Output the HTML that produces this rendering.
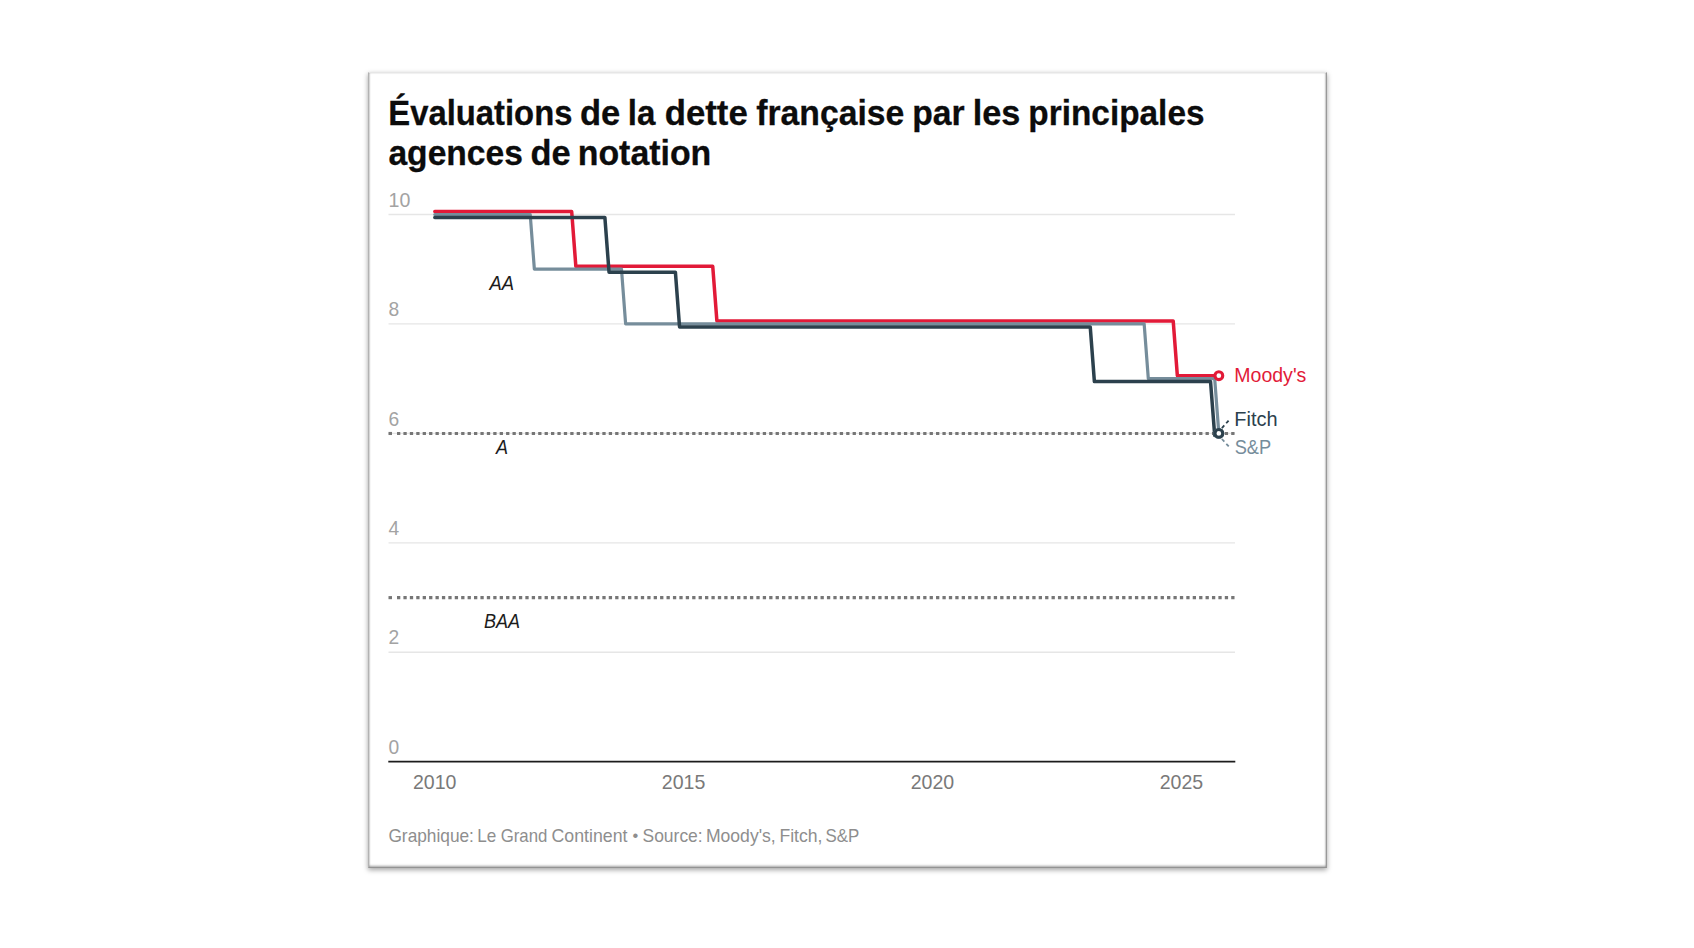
<!DOCTYPE html>
<html lang="fr">
<head>
<meta charset="utf-8">
<title>Évaluations de la dette française par les principales agences de notation</title>
<style>
html,body{margin:0;padding:0;background:#fff;}
body{width:1694px;height:948px;position:relative;overflow:hidden;font-family:'Liberation Sans', Arial, sans-serif;}
.card{position:absolute;left:368px;top:72px;width:957px;height:794px;background:#fff;
 border:1px solid rgba(0,0,0,0.40);border-top-color:rgba(0,0,0,0.10);border-left-color:rgba(0,0,0,0.30);border-bottom-color:rgba(0,0,0,0.42);
 box-shadow:0 2px 5px rgba(0,0,0,0.36), inset 1px 0 1.5px rgba(0,0,0,0.12), inset -1px 0 1.5px rgba(0,0,0,0.16), inset 0 -1.5px 2px rgba(0,0,0,0.25);}
svg{position:absolute;left:0;top:0;font-family:'Liberation Sans', Arial, sans-serif;}
</style>
</head>
<body>
<div class="card"></div>
<svg width="1694" height="948" viewBox="0 0 1694 948">
<g font-weight="bold" font-size="35.6" fill="#0c0c0c" stroke="#0c0c0c" stroke-width="0.3">
<text y="124.85"><tspan x="388.30" textLength="184.14" lengthAdjust="spacingAndGlyphs">Évaluations</tspan> <tspan x="579.95" textLength="40.28" lengthAdjust="spacingAndGlyphs">de</tspan> <tspan x="627.77" textLength="27.62" lengthAdjust="spacingAndGlyphs">la</tspan> <tspan x="664.84" textLength="82.90" lengthAdjust="spacingAndGlyphs">dette</tspan> <tspan x="756.22" textLength="148.07" lengthAdjust="spacingAndGlyphs">française</tspan> <tspan x="912.24" textLength="52.41" lengthAdjust="spacingAndGlyphs">par</tspan> <tspan x="972.79" textLength="47.64" lengthAdjust="spacingAndGlyphs">les</tspan> <tspan x="1028.36" textLength="176.15" lengthAdjust="spacingAndGlyphs">principales</tspan></text>
<text y="164.8"><tspan x="388.44" textLength="134.44" lengthAdjust="spacingAndGlyphs">agences</tspan> <tspan x="530.45" textLength="40.17" lengthAdjust="spacingAndGlyphs">de</tspan> <tspan x="577.72" textLength="133.58" lengthAdjust="spacingAndGlyphs">notation</tspan></text>
</g>
<line x1="388.5" x2="1235" y1="214.50" y2="214.50" stroke="#e6e6e6" stroke-width="1.3"/>
<line x1="388.5" x2="1235" y1="323.94" y2="323.94" stroke="#e6e6e6" stroke-width="1.3"/>
<line x1="388.5" x2="1235" y1="433.38" y2="433.38" stroke="#e6e6e6" stroke-width="1.3"/>
<line x1="388.5" x2="1235" y1="542.82" y2="542.82" stroke="#e6e6e6" stroke-width="1.3"/>
<line x1="388.5" x2="1235" y1="652.26" y2="652.26" stroke="#e6e6e6" stroke-width="1.3"/>

<text x="388.5" y="206.90" font-size="21" fill="#a3a3a3" textLength="21.80" lengthAdjust="spacingAndGlyphs">10</text>
<text x="388.5" y="316.34" font-size="21" fill="#a3a3a3" textLength="10.70" lengthAdjust="spacingAndGlyphs">8</text>
<text x="388.5" y="425.78" font-size="21" fill="#a3a3a3" textLength="10.70" lengthAdjust="spacingAndGlyphs">6</text>
<text x="388.5" y="535.22" font-size="21" fill="#a3a3a3" textLength="10.70" lengthAdjust="spacingAndGlyphs">4</text>
<text x="388.5" y="644.26" font-size="21" fill="#a3a3a3" textLength="10.70" lengthAdjust="spacingAndGlyphs">2</text>
<text x="388.5" y="754.10" font-size="21" fill="#a3a3a3" textLength="10.70" lengthAdjust="spacingAndGlyphs">0</text>

<line x1="388.3" x2="1235.3" y1="761.6" y2="761.6" stroke="#1c1c1c" stroke-width="1.8"/>
<text x="412.95" y="788.8" font-size="21" fill="#797979" textLength="43.5" lengthAdjust="spacingAndGlyphs">2010</text>
<text x="661.85" y="788.8" font-size="21" fill="#797979" textLength="43.5" lengthAdjust="spacingAndGlyphs">2015</text>
<text x="910.75" y="788.8" font-size="21" fill="#797979" textLength="43.5" lengthAdjust="spacingAndGlyphs">2020</text>
<text x="1159.65" y="788.8" font-size="21" fill="#797979" textLength="43.5" lengthAdjust="spacingAndGlyphs">2025</text>

<rect x="388.5" y="431.93" width="3.5" height="3.1" fill="#767676"/>
<line x1="397" x2="1235" y1="433.48" y2="433.48" stroke="#767676" stroke-width="3.1" stroke-dasharray="3.3 3.117"/>

<rect x="388.5" y="596.09" width="3.5" height="3.1" fill="#767676"/>
<line x1="397" x2="1235" y1="597.64" y2="597.64" stroke="#767676" stroke-width="3.1" stroke-dasharray="3.3 3.117"/>

<g font-style="italic" font-size="19.6" fill="#1c1c1c">
<text y="290.4"><tspan x="489.52" textLength="24.63" lengthAdjust="spacingAndGlyphs">AA</tspan></text>
<text y="454.1"><tspan x="496.11" textLength="12.06" lengthAdjust="spacingAndGlyphs">A</tspan></text>
<text y="627.8"><tspan x="484.05" textLength="36.12" lengthAdjust="spacingAndGlyphs">BAA</tspan></text>
</g>
<g fill="none" stroke-linejoin="round" stroke-linecap="round">
<path d="M434.80 211.55 L571.70 211.55 L575.84 266.27 L712.74 266.27 L716.89 320.99 L1173.20 320.99 L1177.35 375.71 L1218.84 375.71" stroke="#e21a38" stroke-width="3.5"/>
<path d="M434.80 214.50 L530.21 214.50 L534.36 269.22 L621.48 269.22 L625.62 323.94 L1144.16 323.94 L1148.31 378.66 L1214.69 378.66 L1218.84 433.38" stroke="#768d9b" stroke-width="3.2"/>
<path d="M434.80 217.45 L604.88 217.45 L609.03 272.17 L675.40 272.17 L679.55 326.89 L1090.24 326.89 L1094.38 381.61 L1210.54 381.61 L1214.69 435.38 L1218.84 433.38" stroke="#2c414d" stroke-width="3.5"/>
</g>
<g fill="none" stroke-width="1.8" stroke-dasharray="3.6 2.9">
<path d="M1221.9 428.1 L1228.9 420.2" stroke="#2c414d"/>
<path d="M1221.9 439 L1228.9 446.6" stroke="#768d9b"/>
</g>
<circle cx="1218.84" cy="433.38" r="3.9" fill="#fff" stroke="#768d9b" stroke-width="3.1"/>
<circle cx="1218.84" cy="433.38" r="3.9" fill="#fff" fill-opacity="0.7" stroke="#2c414d" stroke-width="3.1"/>
<circle cx="1218.84" cy="375.71" r="3.9" fill="#fff" stroke="#e21a38" stroke-width="3.1"/>
<g font-size="20.4">
<text y="381.9"><tspan x="1234.30" textLength="72.07" lengthAdjust="spacingAndGlyphs" fill="#e21a38">Moody's</tspan></text>
<text y="425.6"><tspan x="1234.26" textLength="43.25" lengthAdjust="spacingAndGlyphs" fill="#2c414d">Fitch</tspan></text>
<text y="454.4"><tspan x="1234.66" textLength="36.43" lengthAdjust="spacingAndGlyphs" fill="#768d9b">S&amp;P</tspan></text>
</g>
<g font-size="18.2" fill="#8e8e8e">
<text y="841.9"><tspan x="388.45" textLength="85.48" lengthAdjust="spacingAndGlyphs">Graphique:</tspan> <tspan x="477.29" textLength="19.03" lengthAdjust="spacingAndGlyphs">Le</tspan> <tspan x="500.68" textLength="46.70" lengthAdjust="spacingAndGlyphs">Grand</tspan> <tspan x="551.52" textLength="75.97" lengthAdjust="spacingAndGlyphs">Continent</tspan> <tspan x="632.6" dy="-0.9" font-size="16.5">•</tspan><tspan dy="0.9"> </tspan> <tspan x="642.50" textLength="60.18" lengthAdjust="spacingAndGlyphs">Source:</tspan> <tspan x="705.96" textLength="69.75" lengthAdjust="spacingAndGlyphs">Moody's,</tspan> <tspan x="779.45" textLength="43.06" lengthAdjust="spacingAndGlyphs">Fitch,</tspan> <tspan x="825.54" textLength="33.76" lengthAdjust="spacingAndGlyphs">S&amp;P</tspan></text>
</g>
</svg>
</body>
</html>
